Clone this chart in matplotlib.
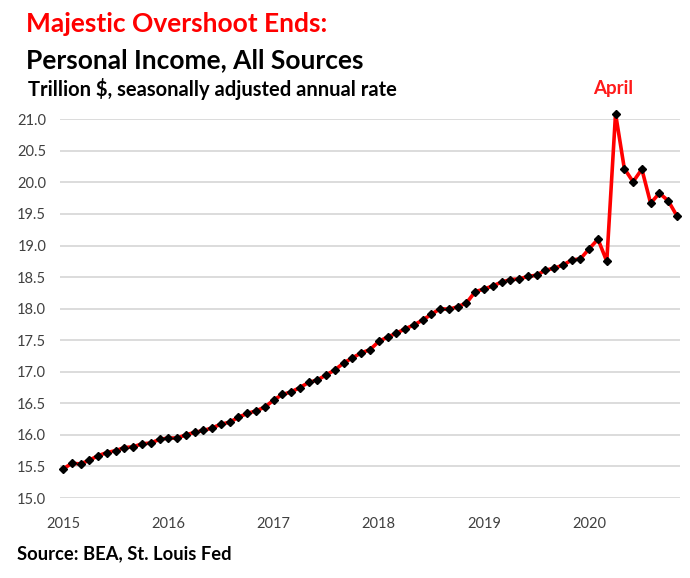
import numpy as np
import matplotlib.pyplot as plt

# monthly personal income, trillion $ SAAR, Jan 2015 - Nov 2020
income = [15.46, 15.55, 15.54, 15.60, 15.67, 15.72, 15.75, 15.80, 15.81, 15.86, 15.87, 15.93,
          15.95, 15.95, 16.00, 16.04, 16.07, 16.11, 16.17, 16.20, 16.28, 16.34, 16.38, 16.44,
          16.55, 16.64, 16.68, 16.75, 16.83, 16.87, 16.95, 17.03, 17.14, 17.22, 17.30, 17.35,
          17.48, 17.55, 17.61, 17.68, 17.74, 17.82, 17.91, 18.00, 17.99, 18.03, 18.09, 18.27,
          18.31, 18.36, 18.42, 18.46, 18.47, 18.51, 18.53, 18.61, 18.64, 18.69, 18.77, 18.79,
          18.95, 19.10, 18.75, 21.09, 20.22, 20.01, 20.21, 19.67, 19.83, 19.71, 19.47]
years = ['2015', '2016', '2017', '2018', '2019', '2020']
yticks = [15.0, 15.5, 16.0, 16.5, 17.0, 17.5, 18.0, 18.5, 19.0, 19.5, 20.0, 20.5, 21.0]
peak_label = 'April'

months = np.arange(len(income))

plt.rcParams['font.family'] = ['Lato', 'DejaVu Sans']

fig = plt.figure(figsize=(6.9, 5.78), dpi=100)
ax = fig.add_axes([0.087, 0.1384, 0.8985, 0.6552])

ax.plot(months, income, color='#ff0000', linewidth=2.6, marker='D', markersize=4,
        markerfacecolor='black', markeredgecolor='black', clip_on=False, zorder=3)

ax.set_ylim(15.0, 21.0)
ax.set_xlim(-0.35, len(income) - 1 + 0.35)
ax.set_yticks(yticks)
ax.set_yticklabels(['%.1f' % t for t in yticks])
ax.set_xticks(np.arange(len(years)) * 12)
ax.set_xticklabels(years)
ax.grid(axis='y', color='#d9d9d9', linewidth=1.3)
ax.set_axisbelow(True)
for s in ax.spines.values():
    s.set_visible(False)
ax.tick_params(length=0, labelsize=10.5, colors='#404040', pad=10)
ax.tick_params(axis='x', pad=14)

peak = int(np.argmax(income))
ax.annotate(peak_label, (peak, income[peak]), xytext=(-2, 12), textcoords='offset points',
            ha='center', va='bottom', color='#ff1a1a', fontsize=13.5, fontweight='bold',
            annotation_clip=False)

fig.text(0.038, 0.945, 'Majestic Overshoot Ends:', color='#ff0000', fontsize=19,
         fontweight='bold', va='baseline')
fig.text(0.038, 0.882, 'Personal Income, All Sources', color='black', fontsize=19,
         fontweight='bold', va='baseline')
fig.text(0.040, 0.834, 'Trillion $, seasonally adjusted annual rate', color='black',
         fontsize=14.5, fontweight='bold', va='baseline')
fig.text(0.025, 0.033, 'Source: BEA, St. Louis Fed', color='black', fontsize=13.2,
         fontweight='bold', va='baseline')

fig.savefig('out.png', dpi=100)
